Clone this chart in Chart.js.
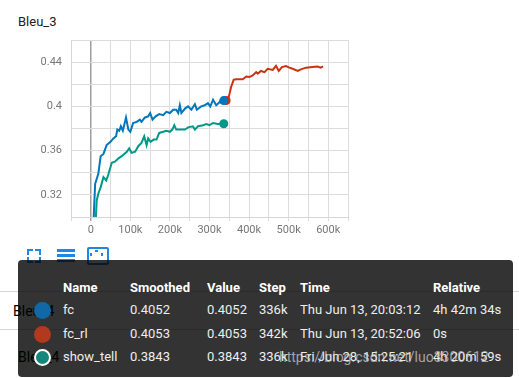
<!DOCTYPE html>
<html>
<head>
<meta charset="utf-8">
<script src="https://cdn.jsdelivr.net/npm/chart.js@4/dist/chart.umd.min.js"></script>
<style>
  body { margin: 0; background: #fff; font-family: Roboto, "Noto Sans", sans-serif; }
  #page { position: relative; width: 519px; height: 378px; overflow: hidden; }
  .abs { position: absolute; white-space: nowrap; line-height: 1; }
  #title { left: 18px; top: 15px; font-size: 13px; color: #212121; }
  #chartBox { position: absolute; left: 0; top: 0; width: 360px; height: 245px; }
  .hline { position: absolute; left: 0; width: 519px; height: 1px; background: #d6d6d6; }
  .card { font-size: 14px; color: #000; }
  #tip { position: absolute; left: 18px; top: 260px; width: 495px; height: 117px; background: rgba(0,0,0,0.8); border-radius: 4px; }
  .th { font-size: 13px; font-weight: bold; color: #fff; }
  .td { font-size: 13px; color: #eee; }
  .dot { position: absolute; width: 17px; height: 17px; border-radius: 50%; box-sizing: border-box; }
  #mark { left: 279px; top: 350px; font-size: 14px; color: rgba(215,215,215,0.7); }
  .ic { position: absolute; border-color: #1e88e5; border-style: solid; border-width: 0; }
  .bar { position: absolute; left: 57px; width: 18px; height: 2.5px; background: #1e88e5; }
</style>
</head>
<body>
<div id="page">
  <div id="title" class="abs">Bleu_3</div>
  <div id="chartBox"><canvas id="bleu3"></canvas></div>

  <!-- toolbar icons -->
  <div class="ic" style="left:27px;top:249px;width:4px;height:4px;border-left-width:2px;border-top-width:2px;"></div>
  <div class="ic" style="left:35px;top:249px;width:4px;height:4px;border-right-width:2px;border-top-width:2px;"></div>
  <div class="ic" style="left:27px;top:257px;width:4px;height:4px;border-left-width:2px;border-bottom-width:2px;"></div>
  <div class="ic" style="left:35px;top:257px;width:4px;height:4px;border-right-width:2px;border-bottom-width:2px;"></div>
  <div class="bar" style="top:249px;"></div>
  <div class="bar" style="top:254px;"></div>
  <div class="bar" style="top:259px;"></div>
  <div class="ic" style="left:87px;top:247px;width:18px;height:14px;border-width:2px;border-radius:2px;"></div>
  <div class="ic" style="left:95px;top:250px;width:3px;height:2px;background:#1e88e5;"></div>
  <div class="ic" style="left:90px;top:253px;width:2px;height:3px;background:#1e88e5;"></div>
  <div class="ic" style="left:101px;top:253px;width:2px;height:3px;background:#1e88e5;"></div>

  <!-- cards behind the tooltip -->
  <div class="hline" style="top:291px;"></div>
  <div class="hline" style="top:329px;"></div>
  <div class="abs card" style="left:13px;top:304px;">Bleu_4</div>
  <div class="abs card" style="left:18px;top:350px;">Bleu_4</div>

  <div id="tip"></div>
  <div id="rows"></div>
  <div id="mark" class="abs">https://blog.csdn.net/luo3300612</div>
</div>
<script>
// steps in thousands
var fcSteps = [5, 11, 19, 25, 32, 40, 50, 57, 64, 67, 72, 76, 81, 89, 95, 100, 107, 116, 124, 128, 137, 145, 150, 156, 164, 173, 183, 191, 200, 208, 216, 221, 225, 229, 238, 246, 254, 263, 268, 279, 288, 296, 302, 309, 317, 326, 331, 336];
var fcValues = [0.28, 0.330, 0.339, 0.355, 0.357, 0.365, 0.368, 0.371, 0.373, 0.379, 0.378, 0.382, 0.378, 0.390, 0.379, 0.377, 0.385, 0.386, 0.388, 0.386, 0.390, 0.391, 0.394, 0.388, 0.391, 0.393, 0.392, 0.395, 0.394, 0.397, 0.397, 0.394, 0.401, 0.394, 0.398, 0.400, 0.397, 0.402, 0.397, 0.400, 0.401, 0.403, 0.400, 0.406, 0.401, 0.404, 0.403, 0.4052];

var fcRlSteps = [338, 342, 349, 355, 361, 367, 384, 393, 401, 409, 418, 422, 430, 439, 447, 460, 468, 475, 483, 493, 502, 510, 523, 531, 544, 560, 573, 581, 587];
var fcRlValues = [0.404, 0.4053, 0.409, 0.418, 0.424, 0.4245, 0.4245, 0.427, 0.4265, 0.428, 0.431, 0.4295, 0.432, 0.431, 0.434, 0.433, 0.4367, 0.432, 0.4355, 0.4364, 0.435, 0.434, 0.432, 0.4335, 0.435, 0.4355, 0.436, 0.435, 0.4362];

var stSteps = [10, 15, 19, 25, 32, 39, 44, 53, 61, 70, 78, 91, 97, 103, 112, 120, 128, 135, 141, 145, 151, 159, 166, 173, 183, 191, 200, 206, 211, 216, 225, 238, 246, 258, 263, 271, 284, 292, 300, 309, 321, 336];
var stValues = [0.28, 0.315, 0.321, 0.327, 0.336, 0.333, 0.338, 0.349, 0.350, 0.353, 0.355, 0.359, 0.362, 0.358, 0.359, 0.364, 0.367, 0.373, 0.365, 0.371, 0.368, 0.370, 0.370, 0.376, 0.377, 0.378, 0.377, 0.379, 0.383, 0.379, 0.379, 0.379, 0.381, 0.382, 0.379, 0.382, 0.383, 0.384, 0.383, 0.385, 0.384, 0.3843];

var xTickLabels = ['0', '100k', '200k', '300k', '400k', '500k', '600k'];
var yTickLabels = ['0.32', '0.36', '0.4', '0.44'];

var runNames = ['fc', 'fc_rl', 'show_tell'];
var lineColors = ['#0077bb', '#cc3311', '#009988'];
var dotColors = ['#1068a6', '#b2391e', '#12877a'];
var smoothed = ['0.4052', '0.4053', '0.3843'];
var rawValues = ['0.4052', '0.4053', '0.3843'];
var stepTexts = ['336k', '342k', '336k'];
var timeTexts = ['Thu Jun 13, 20:03:12', 'Thu Jun 13, 20:52:06', 'Fri Jun 28, 15:25:21'];
var relTexts = ['4h 42m 34s', '0s', '4h 20m 59s'];
var headers = ['Name', 'Smoothed', 'Value', 'Step', 'Time', 'Relative'];

function toPoints(steps, vals) {
  return steps.map(function(s, i) { return { x: s * 1000, y: vals[i] }; });
}

function mkSet(i, steps, vals, dotIdx) {
  return {
    label: runNames[i],
    data: toPoints(steps, vals),
    borderColor: lineColors[i],
    backgroundColor: lineColors[i],
    borderWidth: 2,
    tension: 0,
    pointRadius: function(ctx) { return ctx.dataIndex === dotIdx ? 4.5 : 0; },
    pointBorderWidth: 0
  };
}

var datasets = [
  mkSet(0, fcSteps, fcValues, fcSteps.length - 1),
  mkSet(1, fcRlSteps, fcRlValues, 1),
  mkSet(2, stSteps, stValues, stSteps.length - 1)
];

new Chart(document.getElementById('bleu3'), {
  type: 'line',
  data: { datasets: datasets },
  options: {
    responsive: true,
    maintainAspectRatio: false,
    animation: false,
    layout: { padding: { top: 40, right: 12, left: 0, bottom: 0 } },
    plugins: { legend: { display: false }, tooltip: { enabled: false } },
    scales: {
      x: {
        type: 'linear',
        min: -50000,
        max: 650000,
        afterFit: function(s) { s.height = 28; },
        border: { display: true, color: '#d6d6d6' },
        grid: {
          color: function(ctx) { return ctx.tick && ctx.tick.value === 0 ? '#9e9e9e' : '#dcdcdc'; },
          lineWidth: function(ctx) { return ctx.tick && ctx.tick.value === 0 ? 1.5 : 1; },
          tickLength: 4
        },
        ticks: {
          stepSize: 50000,
          autoSkip: false,
          maxRotation: 0,
          padding: 3,
          color: '#777',
          font: { family: 'Roboto', size: 11 },
          callback: function(v) {
            if (v < 0 || v % 100000 !== 0) return '';
            return xTickLabels[v / 100000];
          }
        }
      },
      y: {
        min: 0.30,
        max: 0.46,
        afterFit: function(s) { s.width = 71; },
        border: { display: true, color: '#d6d6d6' },
        grid: { color: '#dcdcdc', drawTicks: false },
        ticks: {
          stepSize: 0.02,
          padding: 9,
          color: '#777',
          font: { family: 'Roboto', size: 11 },
          callback: function(v) {
            var k = Math.round(v * 100);
            if (k % 4 !== 0) return '';
            return yTickLabels[(k - 32) / 4];
          }
        }
      }
    }
  }
});

// tooltip rows drawn as text
var rows = document.getElementById('rows');
var colX = [63, 130, 207, 259, 300, 433];
var rowY = [310, 334, 357];
function addText(txt, x, yc, cls) {
  var d = document.createElement('div');
  d.className = 'abs ' + cls;
  d.textContent = txt;
  d.style.left = x + 'px';
  d.style.top = (yc - 7) + 'px';
  rows.appendChild(d);
}
headers.forEach(function(h, i) { addText(h, colX[i], 288, 'th'); });
runNames.forEach(function(n, r) {
  var dot = document.createElement('div');
  dot.className = 'dot';
  dot.style.left = (42 - 8.5) + 'px';
  dot.style.top = (rowY[r] - 8.5) + 'px';
  dot.style.background = dotColors[r];
  if (r === 2) dot.style.border = '2px solid #fff';
  rows.appendChild(dot);
  var cells = [n, smoothed[r], rawValues[r], stepTexts[r], timeTexts[r], relTexts[r]];
  cells.forEach(function(c, i) { addText(c, colX[i], rowY[r], 'td'); });
});
</script>
</body>
</html>
